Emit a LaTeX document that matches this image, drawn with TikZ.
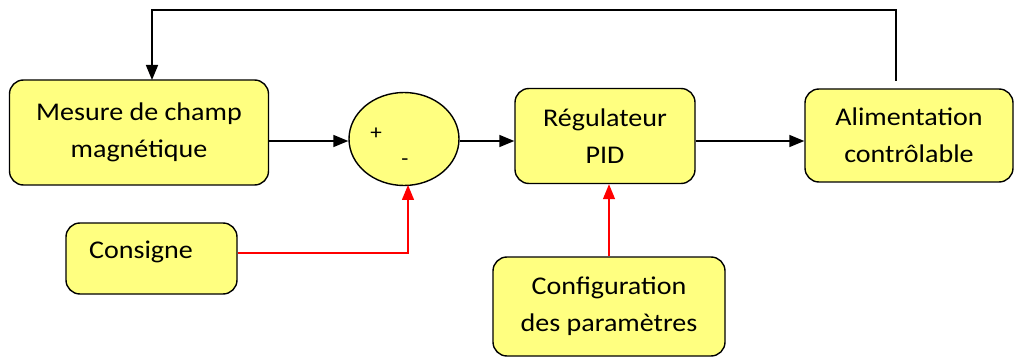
\documentclass[tikz,border=0pt]{standalone}
\usepackage{fontspec}
\setmainfont{Carlito}[FakeStretch=1.1]
\usetikzlibrary{shapes.geometric,arrows.meta}
\definecolor{boxfill}{RGB}{255,255,128}
\begin{document}
\begin{tikzpicture}[x=1pt,y=-1pt,
  block/.style={draw=black,line width=1.4pt,fill=boxfill,rounded corners=14pt,
    align=center,font=\fontsize{25.5}{37}\selectfont,inner sep=0pt},
  flow/.style={line width=1.6pt,-{Triangle[length=15pt,width=12pt]}},
  setflow/.style={flow,draw=red,line width=1.4pt},
  sign/.style={font=\fontsize{21}{24}\selectfont,inner sep=0pt}]
\useasboundingbox (0,0) rectangle (1014,358);

% blocks of the loop
\node[block,minimum width=259pt,minimum height=105pt] (mesure) at (139,132.5)
  {Mesure de champ\\magnétique};
\node[draw=black,line width=1.4pt,fill=boxfill,ellipse,minimum width=110pt,
  minimum height=93pt] (sum) at (404,139) {};
\node[sign] (plus) at (376,134) {+};
\node[sign] (minus) at (405,162) {-};
\node[block,minimum width=180pt,minimum height=95pt] (pid) at (605,136)
  {Régulateur\\PID};
\node[block,minimum width=208pt,minimum height=93pt] (alim) at (909,135.5)
  {Alimentation\\contrôlable};
\node[block,minimum width=171pt,minimum height=71pt] (consigne) at (151.5,258.5) {};
\node[font=\fontsize{25.5}{37}\selectfont,inner sep=0pt] (consignetxt) at (141,252) {Consigne};
\node[block,minimum width=232pt,minimum height=99pt] (config) at (609,306.5)
  {Configuration\\des paramètres};

% forward path
\draw[flow] (mesure.east |- 0,141) -- (sum.west |- 0,141);
\draw[flow] (sum.east |- 0,141) -- (pid.west |- 0,141);
\draw[flow] (pid.east |- 0,141) -- (alim.west |- 0,141);

% feedback path
\coordinate (fb) at (896,81);
\coordinate (fbend) at (152,80);
\draw[flow] (fb) -- (896,10) -| (fbend);

% set point and tuning inputs
\draw[setflow] (consigne.east |- 0,253) -| (408,185);
\draw[setflow] (config.north) -- (config.north |- pid.south);
\end{tikzpicture}
\end{document}
